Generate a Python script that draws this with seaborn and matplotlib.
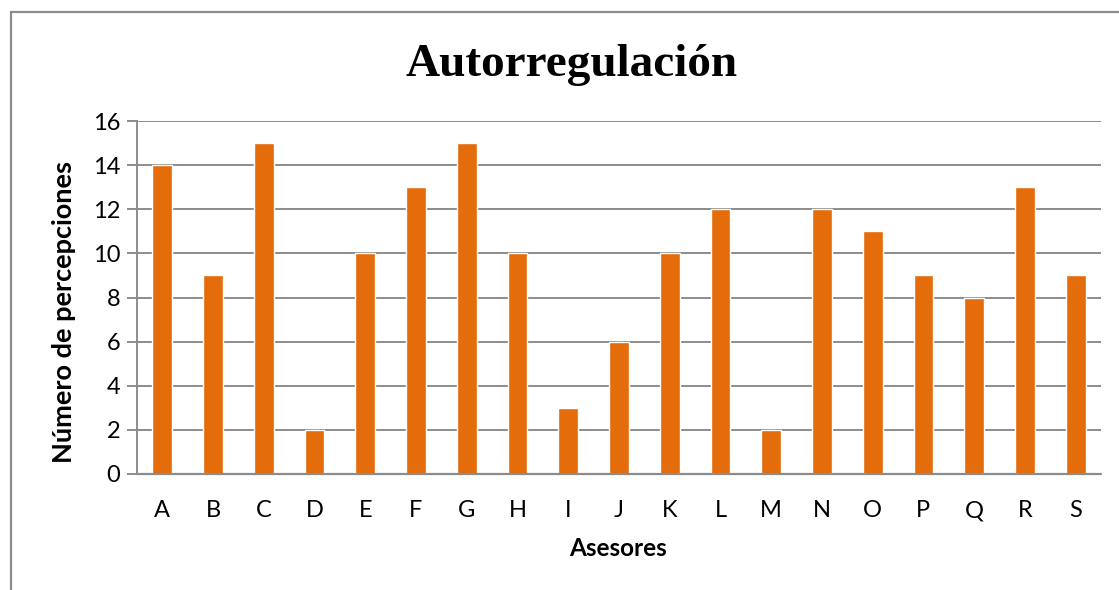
import matplotlib
matplotlib.use("Agg")
import matplotlib.pyplot as plt
import seaborn as sns
import pandas as pd
from matplotlib.patches import Rectangle

asesores = ["A", "B", "C", "D", "E", "F", "G", "H", "I", "J",
            "K", "L", "M", "N", "O", "P", "Q", "R", "S"]
percepciones = [14, 9, 15, 2, 10, 13, 15, 10, 3, 6,
                10, 12, 2, 12, 11, 9, 8, 13, 9]
y_ticks = [0, 2, 4, 6, 8, 10, 12, 14, 16]

title = "Autorregulación"
x_label = "Asesores"
y_label = "Número de percepciones"

sns.set_theme(style="white")
plt.rcParams['font.family'] = ['Lato', 'DejaVu Sans']

df = pd.DataFrame({"Asesores": asesores, "Percepciones": percepciones})

W, H = 1119, 590
fig = plt.figure(figsize=(W / 100, H / 100), dpi=100)
ax = fig.add_axes([137/W, 1 - 474/H, (1101-137)/W, (474-121)/H])

sns.barplot(data=df, x="Asesores", y="Percepciones", color="#E46C0A",
            saturation=1, width=0.39, ax=ax, zorder=3)

grid_c = "#8C8C8C"
ax.set_ylim(0, 16)
ax.set_xlim(-0.5, len(asesores) - 0.5)
ax.set_yticks(y_ticks)
ax.yaxis.grid(True, color=grid_c, linewidth=1.4, zorder=0)
ax.set_axisbelow(True)
for s in ["top", "right", "bottom"]:
    ax.spines[s].set_visible(False)
ax.spines["left"].set_color(grid_c)
ax.spines["left"].set_linewidth(1.4)
ax.axhline(0, color=grid_c, linewidth=1.6, zorder=4, clip_on=False)
ax.tick_params(axis="y", which="major", length=7, width=1.4, color=grid_c,
               direction="out", left=True, labelsize=17, pad=5, labelcolor="black")
ax.tick_params(axis="x", length=0, labelsize=17, pad=19, labelcolor="black")

ax.set_xlabel("")
ax.set_ylabel("")
fig.text(618/W, 1 - 549/H, x_label, ha="center", va="center",
         fontsize=17.5, fontweight="bold", color="black")
fig.text(64/W, 1 - 312/H, y_label, ha="center", va="center", rotation=90,
         fontsize=19.5, fontweight="bold", color="black")

fig.text(572/W, 1 - 65/H, title, ha="center", va="center", color="black",
         fontsize=34, fontweight="bold", family=["Liberation Serif", "DejaVu Serif"])

fig.patches.append(Rectangle((10.5/W, -0.05), 1.2, 1 - 11.5/H + 0.05,
                             transform=fig.transFigure, fill=False,
                             edgecolor="#8C8C8C", linewidth=1.6))

fig.savefig("out.png", dpi=100, facecolor="white")
